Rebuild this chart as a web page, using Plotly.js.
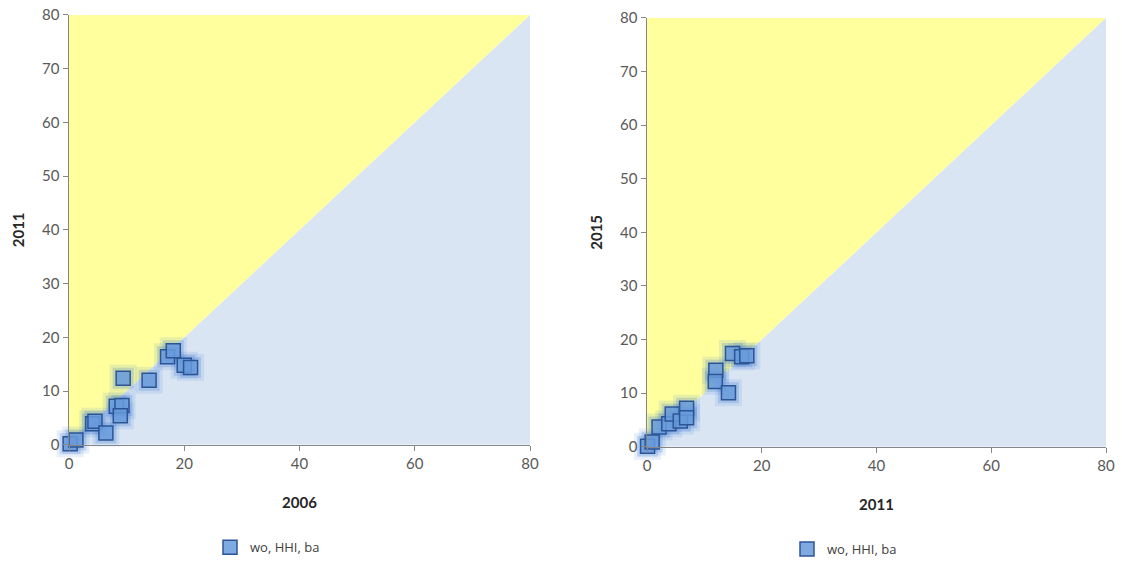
<!DOCTYPE html>
<html>
<head>
<meta charset="utf-8">
<script src="https://cdn.plot.ly/plotly-3.0.1.min.js"></script>
<style>html,body{margin:0;padding:0;background:#fff;}#chart{width:1122px;height:564px;}</style>
</head>
<body>
<div id="chart"></div>
<script>
// Data
const seriesName = "wo, HHI, ba";
const x2006 = [0.2, 1.2, 4.1, 4.5, 6.4, 8.2, 9.2, 8.9, 9.4, 13.9, 17.1, 18.1, 20.0, 21.1];
const y2011a = [0.2, 0.9, 3.9, 4.4, 2.2, 7.2, 7.3, 5.4, 12.4, 12.0, 16.4, 17.5, 14.8, 14.4];
const x2011 = [0.1, 0.9, 2.1, 3.8, 4.4, 5.8, 6.9, 6.9, 12.0, 11.9, 14.2, 14.9, 16.5, 17.4];
const y2015 = [0.1, 0.9, 3.7, 4.3, 6.1, 4.8, 7.2, 5.4, 14.3, 12.2, 10.1, 17.4, 16.8, 17.0];
const axisMin = 0, axisMax = 80;
const xTicks = [0, 20, 40, 60, 80];
const yTicks = [0, 10, 20, 30, 40, 50, 60, 70, 80];

const yellow = "#ffff9e", paleBlue = "#dae5f4";
const tickFont = {family: "Lato, 'Open Sans', sans-serif", size: 15, color: "#595959"};
const titleFont = {family: "Lato, 'Open Sans', sans-serif", size: 15, color: "#262626", weight: "bold"};

function region(xa, ya, xs, ys, color) {
  return {x: xs, y: ys, xaxis: xa, yaxis: ya, type: "scatter", mode: "none",
          fill: "toself", fillcolor: color, hoverinfo: "skip", showlegend: false};
}
function glow(xa, ya, xs, ys, size, alpha) {
  return {x: xs, y: ys, xaxis: xa, yaxis: ya, type: "scatter", mode: "markers",
          cliponaxis: false, showlegend: false, hoverinfo: "skip",
          marker: {symbol: "square", size: size, color: "rgba(60,120,210," + alpha + ")", line: {width: 0}}};
}
function pts(xa, ya, xs, ys, legend) {
  return {x: xs, y: ys, xaxis: xa, yaxis: ya, type: "scatter", mode: "markers",
          name: seriesName, legend: legend, cliponaxis: false,
          marker: {symbol: "square", size: 14, color: "rgba(105,155,220,0.85)",
                   line: {width: 1.5, color: "#2c5596"}}};
}

const traces = [];
[["x", "y", x2006, y2011a, "legend"], ["x2", "y2", x2011, y2015, "legend2"]].forEach(([xa, ya, xs, ys, lg]) => {
  traces.push(region(xa, ya, [axisMin, axisMax, axisMax], [axisMin, axisMax, axisMin], paleBlue));
  traces.push(region(xa, ya, [axisMin, axisMin, axisMax], [axisMin, axisMax, axisMax], yellow));
  traces.push(glow(xa, ya, xs, ys, 27, 0.12));
  traces.push(glow(xa, ya, xs, ys, 21, 0.22));
  traces.push(pts(xa, ya, xs, ys, lg));
});

function xaxis(domain, title, anchor) {
  return {domain: domain, anchor: anchor, range: [axisMin, axisMax], tickvals: xTicks,
          showgrid: false, zeroline: false, showline: true, linecolor: "#868686", linewidth: 1.5,
          ticks: "outside", ticklen: 5, tickcolor: "#868686", tickfont: tickFont,
          title: {text: title, font: titleFont, standoff: 26}};
}
function yaxis(domain, title, anchor) {
  return {domain: domain, anchor: anchor, range: [axisMin, axisMax], tickvals: yTicks,
          showgrid: false, zeroline: false, showline: true, linecolor: "#868686", linewidth: 1.5,
          ticks: "outside", ticklen: 5, tickcolor: "#868686", tickfont: tickFont,
          title: {text: title, font: titleFont, standoff: 14}};
}

const legendFont = {family: "'Open Sans', Lato, sans-serif", size: 13, color: "#404040"};
const layout = {
  width: 1122, height: 564,
  margin: {l: 0, r: 0, t: 0, b: 0},
  paper_bgcolor: "#ffffff", plot_bgcolor: "#ffffff",
  xaxis: xaxis([69/1122, 530/1122], "2006", "y"),
  yaxis: yaxis([1 - 448/564, 1 - 15/564], "2011", "x"),
  xaxis2: xaxis([647/1122, 1106/1122], "2011", "y2"),
  yaxis2: yaxis([1 - 450/564, 1 - 18/564], "2015", "x2"),
  legend: {x: 210/1122, y: 1 - 536/564, xanchor: "left", yanchor: "top", font: legendFont,
           bgcolor: "rgba(0,0,0,0)", itemwidth: 30},
  legend2: {x: 787/1122, y: 1 - 538/564, xanchor: "left", yanchor: "top", font: legendFont,
            bgcolor: "rgba(0,0,0,0)", itemwidth: 30},
  showlegend: true
};

Plotly.newPlot("chart", traces, layout, {staticPlot: true});
</script>
</body>
</html>
